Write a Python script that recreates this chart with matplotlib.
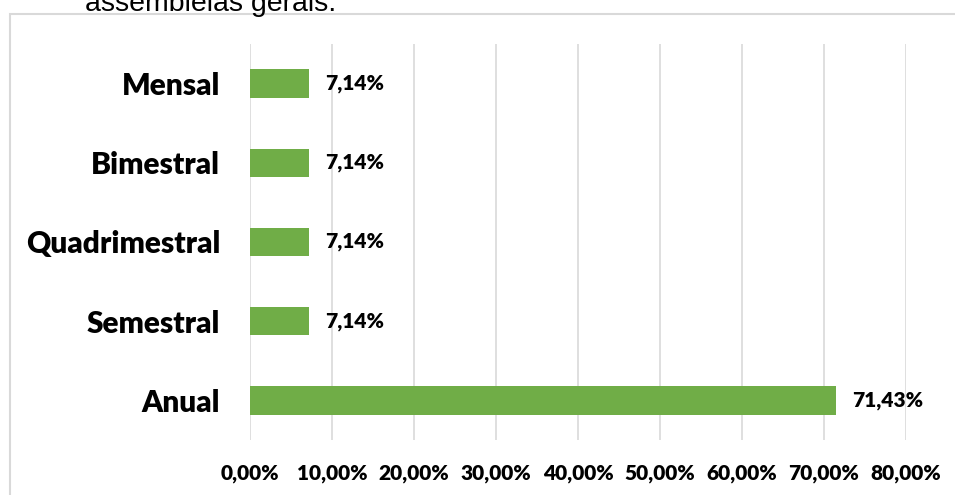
import matplotlib
matplotlib.use("Agg")
import matplotlib.pyplot as plt
from matplotlib.patches import Rectangle

categories = ["Anual", "Semestral", "Quadrimestral", "Bimestral", "Mensal"]
values = [71.43, 7.14, 7.14, 7.14, 7.14]
xticks = [0, 10, 20, 30, 40, 50, 60, 70, 80]

GREEN = "#70AD47"
GRID = "#D9D9D9"
FONT = "Lato"

fig = plt.figure(figsize=(9.55, 4.95), dpi=100)
ax = fig.add_axes([250 / 955, 1 - 440 / 495, 656 / 955, 396 / 495])

ax.barh(range(len(categories)), values, height=0.36, color=GREEN, zorder=3)
for i, v in enumerate(values):
    ax.text(v + 2.0, i, f"{v:.2f}%".replace(".", ","), ha="left", va="center",
            fontsize=15, fontweight="heavy", family=FONT, color="#000000")

ax.set_xlim(0, 80)
ax.set_ylim(-0.5, len(categories) - 0.5)
ax.set_xticks(xticks)
ax.set_xticklabels([f"{t:.2f}%".replace(".", ",") for t in xticks],
                   fontsize=15, fontweight="heavy", family=FONT)
ax.set_yticks(range(len(categories)))
ax.set_yticklabels(categories, fontsize=21.5, fontweight="heavy", family=FONT)
ax.tick_params(length=0)
ax.tick_params(axis="x", pad=17)
ax.tick_params(axis="y", pad=21.5)
ax.grid(axis="x", color=GRID, linewidth=1.2, zorder=0)
for s in ax.spines.values():
    s.set_visible(False)

# chart border (partially off the page)
fig.patches.append(Rectangle((10 / 955, -0.1), 2, 1.1 - 14 / 495,
                             transform=fig.transFigure, fill=False,
                             edgecolor=GRID, linewidth=1.5))
# cropped caption text above the chart
fig.text(85 / 955, 1 - 11 / 495, "assembleias gerais.", ha="left",
         va="baseline", fontsize=20.5, family="Liberation Sans", color="#000000")

fig.savefig("out.png", dpi=100)
